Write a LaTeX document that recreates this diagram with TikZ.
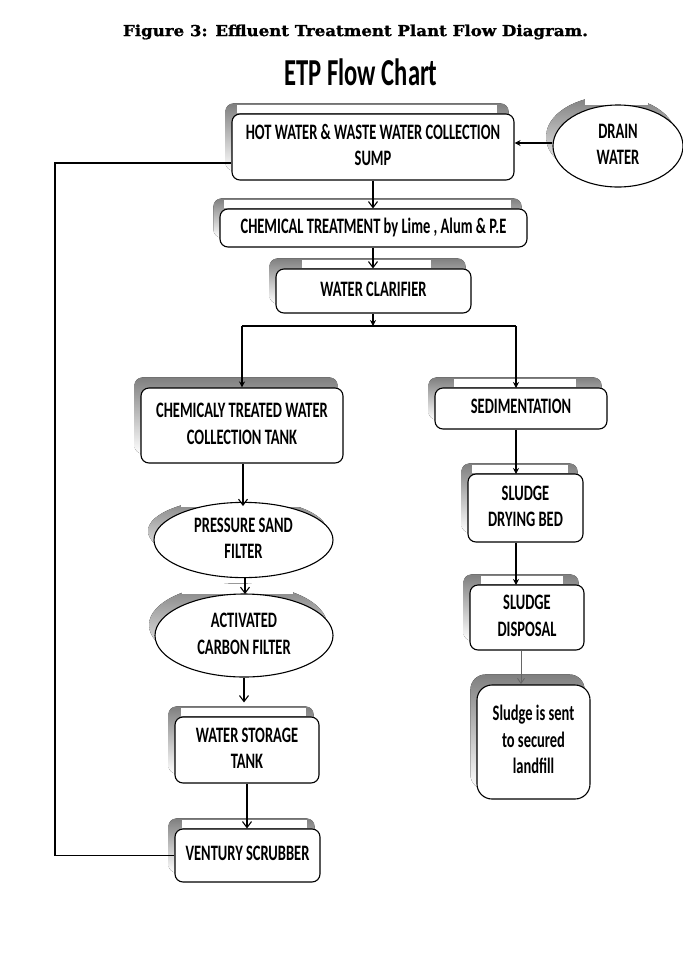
\documentclass[tikz,border=0pt]{standalone}
\usepackage{fontspec}
\setmainfont{Carlito}
\newfontfamily\figfont[FakeBold=1.2]{DejaVu Serif Bold}
\usetikzlibrary{arrows.meta,shapes.geometric}
\pgfdeclarelayer{bg}
\pgfsetlayers{bg,main}
\newcommand\tx[1]{\scalebox{1}[1.52]{\begin{tabular}{@{}c@{}}#1\end{tabular}}}
\colorlet{shade}{black!55}
\newcommand\bshadow[2][8pt]{%
  \fill[shade, rounded corners=#1] ([shift={(-6,-10)}]#2.south west) rectangle ([shift={(-6,-10)}]#2.north east);}
\newcommand\bstripe[3]{%
  \fill[white] ([shift={(#2,-8)}]#1.north west) rectangle ([shift={(-#3,0)}]#1.north east);}
\begin{document}
\begin{tikzpicture}[x=1pt,y=-1pt,
  box/.style={draw=black, line width=1.1pt, fill=white, rounded corners=8pt, inner sep=0pt,
    font=\fontsize{14.5}{17.5}\selectfont\bfseries},
  ell/.style={ellipse, draw=black, line width=1.1pt, fill=white, inner sep=0pt,
    font=\fontsize{14.5}{17.5}\selectfont\bfseries},
  conn/.style={line width=1.1pt},
  fa/.style={conn, -{Stealth[length=6pt,width=6pt]}},
  oa/.style={conn, -{Straight Barb[length=6pt,width=9pt]}},
]
\useasboundingbox (0,0) rectangle (683,959);

% titles
\node[font=\figfont] (fig) at (355.5,32) {\resizebox{465pt}{11.5pt}{Figure 3: Effluent Treatment Plant Flow Diagram.}};
\node (ttl) at (361,72) {\scalebox{1}[1.55]{\fontsize{24.6}{28}\selectfont\bfseries ETP Flow Chart}};

% boxes
\node[box, minimum width=282pt, minimum height=66pt] (hot) at (373,147) {\tx{HOT WATER \& WASTE WATER COLLECTION\\SUMP}};
\node[box, minimum width=307pt, minimum height=38pt] (chem) at (373.5,228) {\tx{CHEMICAL TREATMENT by Lime , Alum \& P.E}};
\node[box, minimum width=195pt, minimum height=44pt] (clar) at (373.5,291) {\tx{WATER CLARIFIER}};
\node[box, minimum width=202pt, minimum height=75pt] (ctw) at (242,425.5) {\tx{CHEMICALY TREATED WATER\\COLLECTION TANK}};
\node[box, minimum width=172pt, minimum height=41pt] (sed) at (521,408.5) {\tx{SEDIMENTATION}};
\node[box, minimum width=115pt, minimum height=68pt] (dry) at (525.5,508) {\tx{SLUDGE\\DRYING BED}};
\node[box, minimum width=114pt, minimum height=65pt] (disp) at (527,617.5) {\tx{SLUDGE\\DISPOSAL}};
\node[box, rounded corners=15pt, minimum width=113pt, minimum height=114pt] (land) at (533.5,742) {\tx{Sludge is sent\\to secured\\landfill}};
\node[ell, minimum width=179pt, minimum height=66pt] (psf) at (243.5,540) {\tx{PRESSURE SAND\\FILTER}};
\node[ell, minimum width=178pt, minimum height=83pt] (acf) at (244,635.5) {\tx{ACTIVATED\\CARBON FILTER}};
\node[box, minimum width=144pt, minimum height=66pt] (wst) at (247,750) {\tx{WATER STORAGE\\TANK}};
\node[box, minimum width=145pt, minimum height=53pt] (vs) at (247.5,855.5) {\tx{VENTURY SCRUBBER}};
\node[ell, minimum width=130pt, minimum height=82pt] (drain) at (618,146) {\tx{DRAIN\\WATER}};

% shadows
\begin{pgfonlayer}{bg}
  \bshadow{hot}\bstripe{hot}{6}{18}
  \bshadow{chem}\bstripe{chem}{5}{17}
  \bshadow{clar}\bstripe{clar}{27}{41}
  \bshadow{ctw}
  \bshadow{sed}\bstripe{sed}{20}{32}
  \bshadow{dry}\bstripe{dry}{5}{16}
  \bshadow{disp}\bstripe{disp}{12}{22}
  \bshadow[15pt]{land}
  \bshadow{wst}\bstripe{wst}{7}{14}
  \bshadow{vs}\bstripe{vs}{8}{14}
  \fill[shade] (237.5,531) ellipse [x radius=89.5, y radius=33];
  \fill[white] (180.5,497) rectangle (301,507);
  \fill[shade] (238,625) ellipse [x radius=89, y radius=41.5];
  \fill[white] (182,584) rectangle (293,594);
  \fill[shade] (611,137) ellipse [x radius=65, y radius=41];
  \fill[white] (585,96) rectangle (648,105);
\end{pgfonlayer}

% connectors
\coordinate (split) at (373,326);
\coordinate (fb) at (55,163);
\draw[oa] (hot.south) -- (hot.south |- chem.north);
\draw[oa] (chem.south -| split) -- (split |- clar.north);
\draw[fa] (clar.south -| split) -- (split);
\draw[conn] (split -| ctw.north) -- (split -| 516,0);
\draw[fa] (split -| ctw.north) -- (ctw.north);
\draw[fa] (516,326) -- (516,388);
\draw[oa] (ctw.south -| 243,0) -- (243,506);
\draw[oa] (psf.south -| 245,0) -- (245,594);
\draw[oa] (acf.south) -- ([yshift=14pt]acf.south |- wst.north);
\draw[oa] (wst.south) -- (wst.south |- vs.north);
\draw[fa] (sed.south -| 516,0) -- (516,474);
\draw[fa] (dry.south -| 516,0) -- (516,585);
\draw[line width=0.8pt, black!60, -{Straight Barb[length=5pt,width=7pt]}] (disp.south -| 521,0) -- (521,684);
\draw[fa] (drain.west |- 0,143) -- (hot.east |- 0,143);
\draw[conn] (vs.west) -- (vs.west -| fb) -- (fb) -- (hot.west |- fb);
\end{tikzpicture}
\end{document}
